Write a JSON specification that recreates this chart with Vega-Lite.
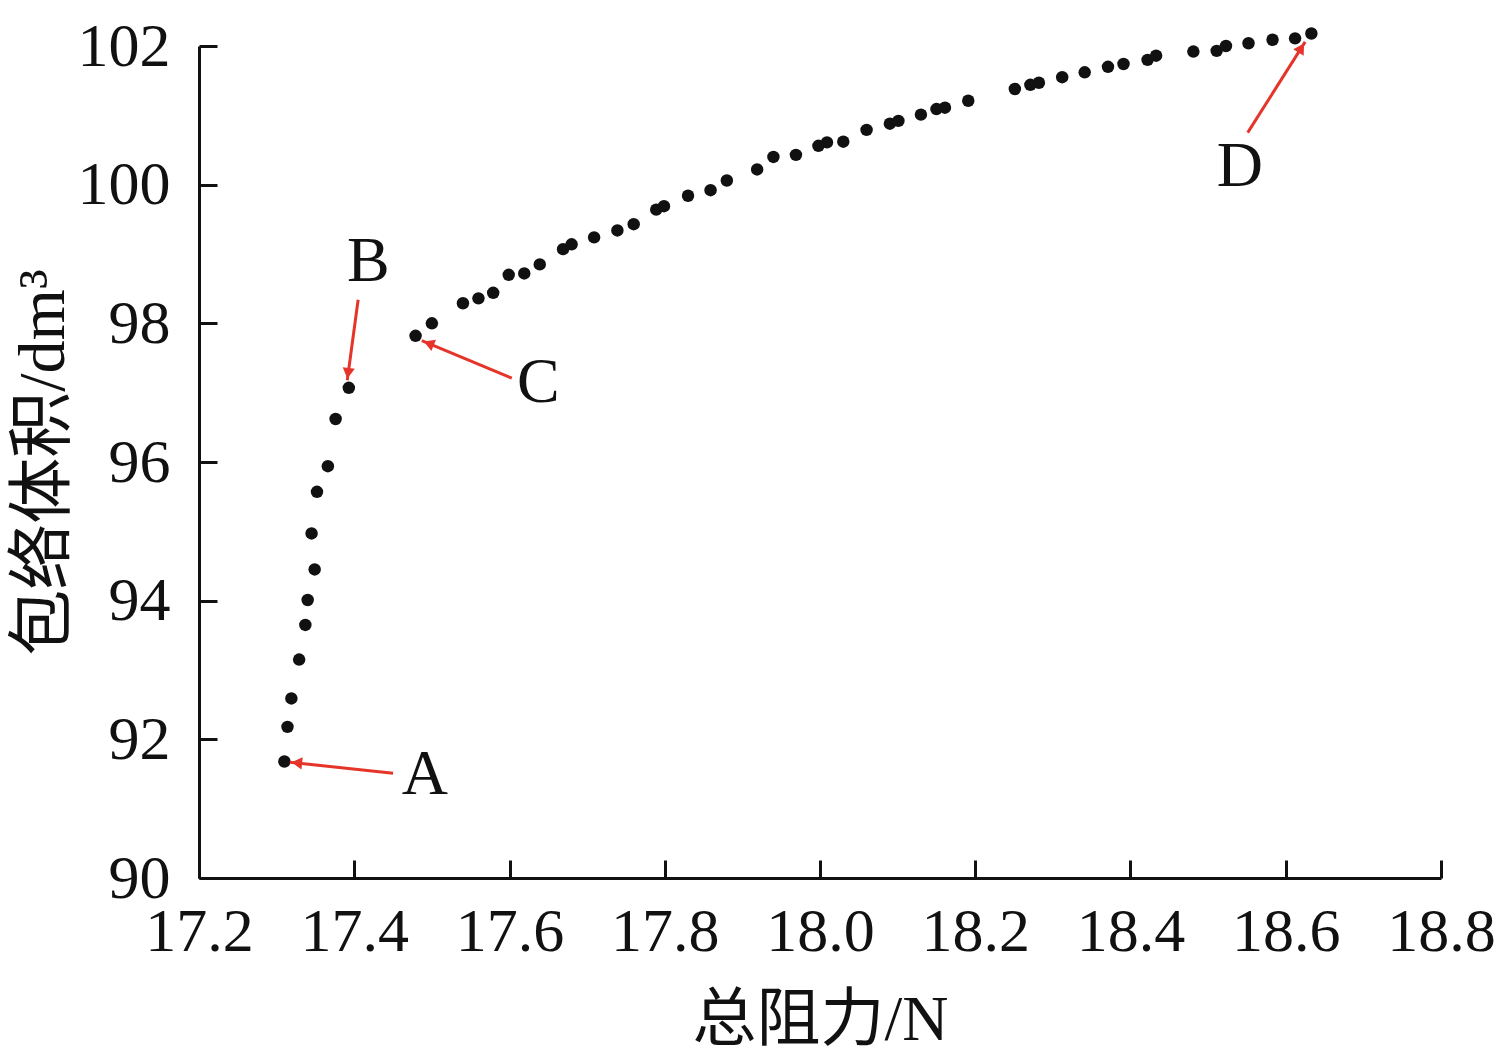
{
  "$schema": "https://vega.github.io/schema/vega-lite/v6.json",
  "width": 1242,
  "height": 832,
  "autosize": {"type": "none"},
  "padding": {"left": 199, "top": 46, "right": 61, "bottom": 178},
  "background": "white",
  "config": {
    "view": {"stroke": null},
    "font": "Liberation Serif, Noto Sans CJK SC",
    "axis": {
      "domainColor": "#111111",
      "domainWidth": 3,
      "tickColor": "#111111",
      "tickWidth": 3,
      "tickSize": -18,
      "labelFont": "Liberation Serif",
      "labelFontSize": 62,
      "labelColor": "#111111",
      "titleFont": "Liberation Serif, Noto Sans CJK SC",
      "titleFontSize": 64,
      "titleFontWeight": "normal",
      "titleColor": "#111111",
      "grid": false,
      "labelFlush": false,
      "labelOverlap": false
    },
    "axisX": {"labelPadding": 41, "titlePadding": 26},
    "axisY": {"labelPadding": 47, "titlePadding": 0, "titleFontSize": 66}
  },
  "datasets": {
    "pts": [
      {"drag": 17.310, "vol": 91.68},
      {"drag": 17.314, "vol": 92.18},
      {"drag": 17.319, "vol": 92.59},
      {"drag": 17.329, "vol": 93.15},
      {"drag": 17.337, "vol": 93.65},
      {"drag": 17.340, "vol": 94.01},
      {"drag": 17.349, "vol": 94.45},
      {"drag": 17.345, "vol": 94.97},
      {"drag": 17.352, "vol": 95.57},
      {"drag": 17.366, "vol": 95.94},
      {"drag": 17.376, "vol": 96.62},
      {"drag": 17.393, "vol": 97.07},
      {"drag": 17.479, "vol": 97.82},
      {"drag": 17.500, "vol": 98.00},
      {"drag": 17.540, "vol": 98.29},
      {"drag": 17.560, "vol": 98.36},
      {"drag": 17.579, "vol": 98.44},
      {"drag": 17.599, "vol": 98.70},
      {"drag": 17.619, "vol": 98.72},
      {"drag": 17.639, "vol": 98.85},
      {"drag": 17.669, "vol": 99.07},
      {"drag": 17.680, "vol": 99.14},
      {"drag": 17.709, "vol": 99.24},
      {"drag": 17.739, "vol": 99.34},
      {"drag": 17.760, "vol": 99.43},
      {"drag": 17.789, "vol": 99.64},
      {"drag": 17.799, "vol": 99.69},
      {"drag": 17.830, "vol": 99.84},
      {"drag": 17.859, "vol": 99.92},
      {"drag": 17.880, "vol": 100.06},
      {"drag": 17.919, "vol": 100.22},
      {"drag": 17.940, "vol": 100.40},
      {"drag": 17.969, "vol": 100.43},
      {"drag": 17.998, "vol": 100.56},
      {"drag": 18.009, "vol": 100.61},
      {"drag": 18.030, "vol": 100.62},
      {"drag": 18.060, "vol": 100.79},
      {"drag": 18.090, "vol": 100.88},
      {"drag": 18.101, "vol": 100.92},
      {"drag": 18.130, "vol": 101.01},
      {"drag": 18.150, "vol": 101.09},
      {"drag": 18.161, "vol": 101.11},
      {"drag": 18.191, "vol": 101.21},
      {"drag": 18.251, "vol": 101.38},
      {"drag": 18.271, "vol": 101.44},
      {"drag": 18.282, "vol": 101.47},
      {"drag": 18.312, "vol": 101.55},
      {"drag": 18.341, "vol": 101.62},
      {"drag": 18.371, "vol": 101.70},
      {"drag": 18.391, "vol": 101.74},
      {"drag": 18.422, "vol": 101.80},
      {"drag": 18.433, "vol": 101.86},
      {"drag": 18.481, "vol": 101.92},
      {"drag": 18.511, "vol": 101.93},
      {"drag": 18.523, "vol": 102.00},
      {"drag": 18.552, "vol": 102.04},
      {"drag": 18.583, "vol": 102.09},
      {"drag": 18.612, "vol": 102.11},
      {"drag": 18.633, "vol": 102.18}
    ],
    "ann": [
      {"label": "A", "lx": 17.491, "ly": 91.49, "tx": 17.450, "ty": 91.51, "hx": 17.317, "hy": 91.67, "ax": 17.326, "ay": 91.66},
      {"label": "B", "lx": 17.418, "ly": 98.89, "tx": 17.405, "ty": 98.34, "hx": 17.391, "hy": 97.18, "ax": 17.392, "ay": 97.28},
      {"label": "C", "lx": 17.637, "ly": 97.14, "tx": 17.603, "ty": 97.21, "hx": 17.487, "hy": 97.75, "ax": 17.496, "ay": 97.71},
      {"label": "D", "lx": 18.541, "ly": 100.26, "tx": 18.551, "ty": 100.75, "hx": 18.625, "hy": 102.06, "ax": 18.620, "ay": 101.97}
    ]
  },
  "layer": [
    {
      "data": {"name": "pts"},
      "mark": {"type": "circle", "size": 155, "color": "#111111", "opacity": 1},
      "encoding": {
        "x": {
          "field": "drag", "type": "quantitative", "title": "总阻力/N",
          "scale": {"domain": [17.2, 18.8], "nice": false, "zero": false},
          "axis": {"values": [17.2, 17.4, 17.6, 17.8, 18.0, 18.2, 18.4, 18.6, 18.8], "format": ".1f"}
        },
        "y": {
          "field": "vol", "type": "quantitative", "title": "包络体积/dm³",
          "scale": {"domain": [90, 102], "nice": false, "zero": false},
          "axis": {"values": [90, 92, 94, 96, 98, 100, 102], "format": "d"}
        }
      }
    },
    {
      "data": {"name": "ann"},
      "mark": {"type": "rule", "color": "#e5352b", "strokeWidth": 3},
      "encoding": {
        "x": {"field": "tx", "type": "quantitative", "title": "总阻力/N"},
        "y": {"field": "ty", "type": "quantitative", "title": "包络体积/dm³"},
        "x2": {"field": "hx"},
        "y2": {"field": "hy"}
      }
    },
    {
      "data": {"name": "ann"},
      "transform": [{"filter": "datum.label === 'A'"}],
      "mark": {"type": "point", "shape": "triangle-up", "filled": true, "size": 150, "color": "#e5352b", "opacity": 1, "angle": 276},
      "encoding": {
        "x": {"field": "ax", "type": "quantitative", "title": "总阻力/N"},
        "y": {"field": "ay", "type": "quantitative", "title": "包络体积/dm³"}
      }
    },
    {
      "data": {"name": "ann"},
      "transform": [{"filter": "datum.label === 'B'"}],
      "mark": {"type": "point", "shape": "triangle-up", "filled": true, "size": 150, "color": "#e5352b", "opacity": 1, "angle": 188},
      "encoding": {
        "x": {"field": "ax", "type": "quantitative", "title": "总阻力/N"},
        "y": {"field": "ay", "type": "quantitative", "title": "包络体积/dm³"}
      }
    },
    {
      "data": {"name": "ann"},
      "transform": [{"filter": "datum.label === 'C'"}],
      "mark": {"type": "point", "shape": "triangle-up", "filled": true, "size": 150, "color": "#e5352b", "opacity": 1, "angle": 292},
      "encoding": {
        "x": {"field": "ax", "type": "quantitative", "title": "总阻力/N"},
        "y": {"field": "ay", "type": "quantitative", "title": "包络体积/dm³"}
      }
    },
    {
      "data": {"name": "ann"},
      "transform": [{"filter": "datum.label === 'D'"}],
      "mark": {"type": "point", "shape": "triangle-up", "filled": true, "size": 150, "color": "#e5352b", "opacity": 1, "angle": 32},
      "encoding": {
        "x": {"field": "ax", "type": "quantitative", "title": "总阻力/N"},
        "y": {"field": "ay", "type": "quantitative", "title": "包络体积/dm³"}
      }
    },
    {
      "data": {"name": "ann"},
      "mark": {"type": "text", "fontSize": 64, "font": "Liberation Serif", "color": "#111111", "align": "center", "baseline": "middle"},
      "encoding": {
        "x": {"field": "lx", "type": "quantitative", "title": "总阻力/N"},
        "y": {"field": "ly", "type": "quantitative", "title": "包络体积/dm³"},
        "text": {"field": "label"}
      }
    }
  ]
}
